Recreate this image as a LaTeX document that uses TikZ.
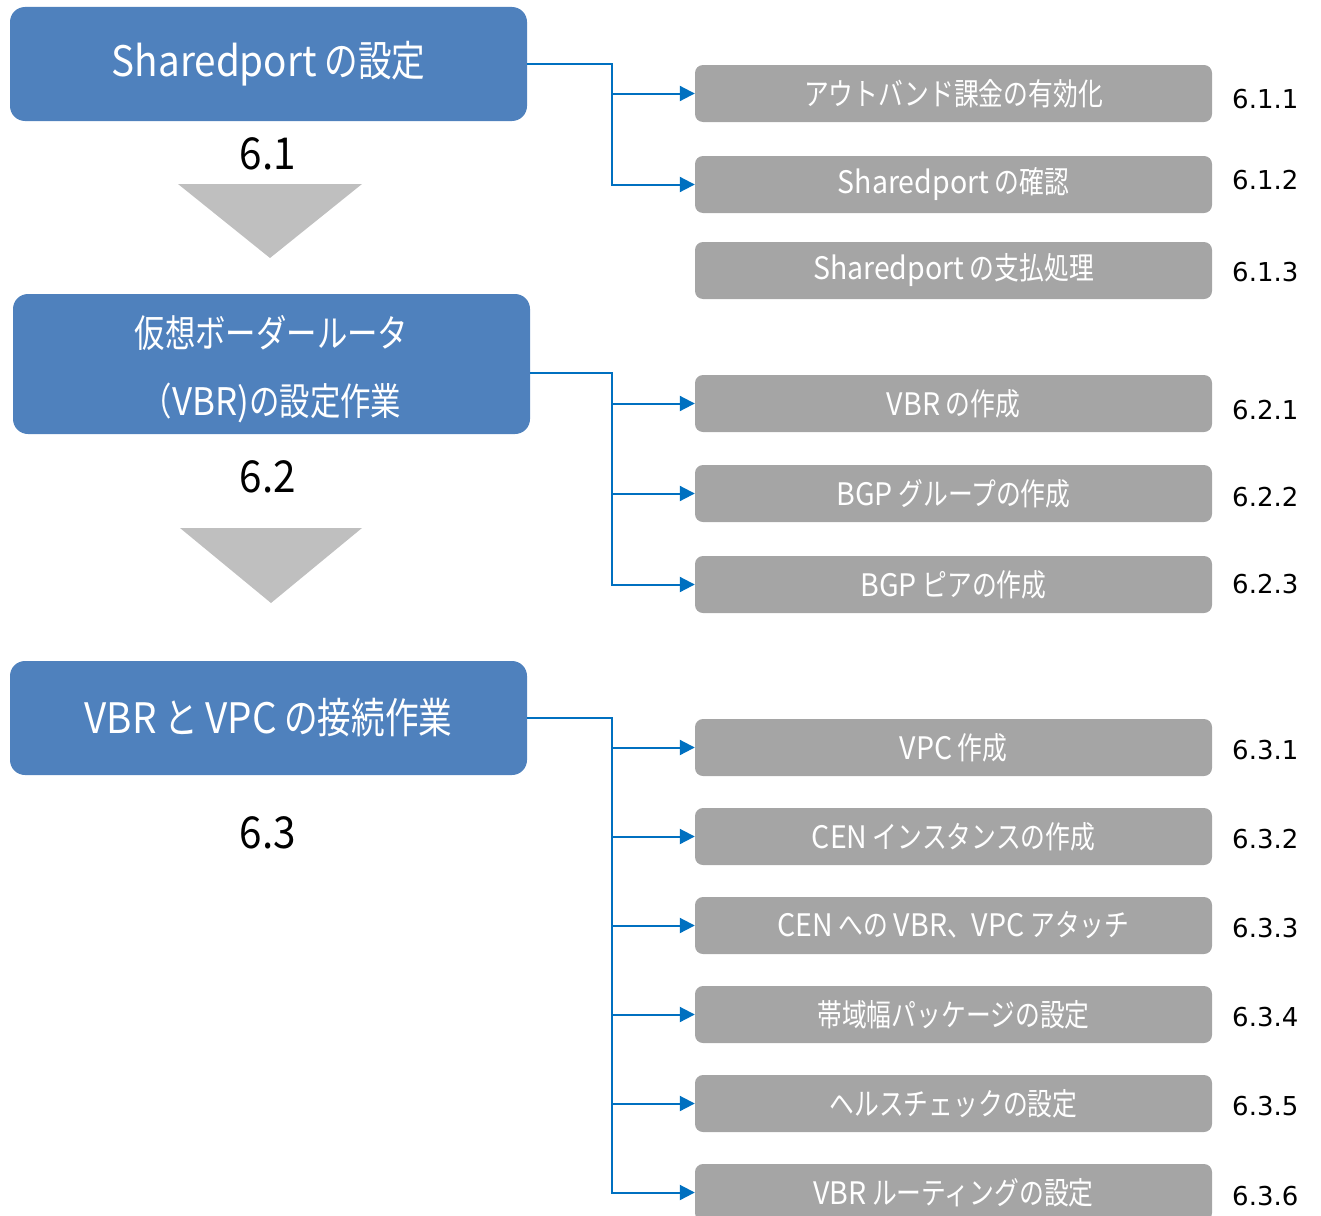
\documentclass[tikz,border=0pt]{standalone}
\usepackage{fontspec}
\newfontfamily\jpfont[FakeStretch=0.8]{Noto Sans CJK JP}
\newfontfamily\latfont[FakeStretch=0.92]{Noto Sans CJK JP}
\newfontfamily\numfont{DejaVu Sans}
\newcommand\lat[1]{{\latfont #1}}
\newcommand\lowline[1]{\raisebox{-5pt}[\height][\depth]{#1}}
\usetikzlibrary{arrows.meta}

\definecolor{stageblue}{HTML}{4F81BD}
\definecolor{taskgray}{HTML}{A5A5A5}
\definecolor{linkblue}{HTML}{0070C0}
\definecolor{downgray}{HTML}{BFBFBF}

\tikzset{
  stage/.style={fill=stageblue, rounded corners=15pt, minimum width=517pt, minimum height=114pt,
    inner sep=0pt, text=white, align=center, font=\jpfont\fontsize{42}{68}\selectfont},
  task/.style={fill=taskgray, rounded corners=8pt, minimum width=517pt, minimum height=57pt,
    inner sep=0pt, text=white, font=\jpfont\fontsize{31}{36}\selectfont},
  secnum/.style={font=\latfont\fontsize{44}{50}\selectfont},
  tasknum/.style={anchor=west, inner sep=0pt, font=\numfont\fontsize{26}{30}\selectfont},
  link/.style={draw=linkblue, line width=2pt},
  linkarrow/.style={link, -{Triangle[length=15pt, width=15pt]}}
}

\begin{document}
\begin{tikzpicture}[x=1pt,y=-1pt]
\useasboundingbox (0,0) rectangle (1321,1215);
% stages
\node[stage] (s1) at (268.5,64) {\lat{Sharedport} の設定};
\node[stage, minimum height=140pt, font=\jpfont\fontsize{38}{68}\selectfont] (s2) at (271.5,364)
  {\lowline{仮想ボーダールータ}\\\lowline{（\lat{VBR)}の設定作業}};
\node[stage] (s3) at (268.5,718) {\lat{VBR} と \lat{VPC} の接続作業};
\node[secnum] (n1) at (268,154) {6.1};
\node[secnum] (n2) at (268,477) {6.2};
\node[secnum] (n3) at (268,833) {6.3};
\fill[downgray] (178,184) -- (362,184) -- (270,258) -- cycle;
\fill[downgray] (180,528) -- (362,528) -- (271,603) -- cycle;
% tasks
\node[task] (t11) at (953.5,93.5) {アウトバンド課金の有効化};
\node[task] (t12) at (953.5,184.5) {\lat{Sharedport} の確認};
\node[task] (t13) at (953.5,270.5) {\lat{Sharedport} の支払処理};
\node[task] (t21) at (953.5,403.5) {\lat{VBR} の作成};
\node[task] (t22) at (953.5,493.5) {\lat{BGP} グループの作成};
\node[task] (t23) at (953.5,584.5) {\lat{BGP} ピアの作成};
\node[task] (t31) at (953.5,747.5) {\lat{VPC} 作成};
\node[task] (t32) at (953.5,836.5) {\lat{CEN} インスタンスの作成};
\node[task] (t33) at (953.5,925.5) {\lat{CEN} への \lat{VBR}、\lat{VPC} アタッチ};
\node[task] (t34) at (953.5,1014.5) {帯域幅パッケージの設定};
\node[task] (t35) at (953.5,1103.5) {ヘルスチェックの設定};
\node[task] (t36) at (953.5,1192.5) {\lat{VBR} ルーティングの設定};
\node[tasknum] (m11) at (1232,99) {6.1.1};
\node[tasknum] (m12) at (1232,180) {6.1.2};
\node[tasknum] (m13) at (1232,272) {6.1.3};
\node[tasknum] (m21) at (1232,410) {6.2.1};
\node[tasknum] (m22) at (1232,497) {6.2.2};
\node[tasknum] (m23) at (1232,584) {6.2.3};
\node[tasknum] (m31) at (1232,750) {6.3.1};
\node[tasknum] (m32) at (1232,839) {6.3.2};
\node[tasknum] (m33) at (1232,928) {6.3.3};
\node[tasknum] (m34) at (1232,1017) {6.3.4};
\node[tasknum] (m35) at (1232,1106) {6.3.5};
\node[tasknum] (m36) at (1232,1196) {6.3.6};
% connectors
\coordinate (bus) at (612,0);
\draw[linkarrow] (s1.east) -| (bus |- t12.west) -- (t12.west);
\draw[linkarrow] (bus |- t11.west) -- (t11.west);
\draw[linkarrow] ([yshift=-9pt]s2.east) -| (bus |- t23.west) -- (t23.west);
\draw[linkarrow] (bus |- t21.west) -- (t21.west);
\draw[linkarrow] (bus |- t22.west) -- (t22.west);
\draw[linkarrow] (s3.east) -| (bus |- t36.west) -- (t36.west);
\draw[linkarrow] (bus |- t31.west) -- (t31.west);
\draw[linkarrow] (bus |- t32.west) -- (t32.west);
\draw[linkarrow] (bus |- t33.west) -- (t33.west);
\draw[linkarrow] (bus |- t34.west) -- (t34.west);
\draw[linkarrow] (bus |- t35.west) -- (t35.west);
\end{tikzpicture}
\end{document}
